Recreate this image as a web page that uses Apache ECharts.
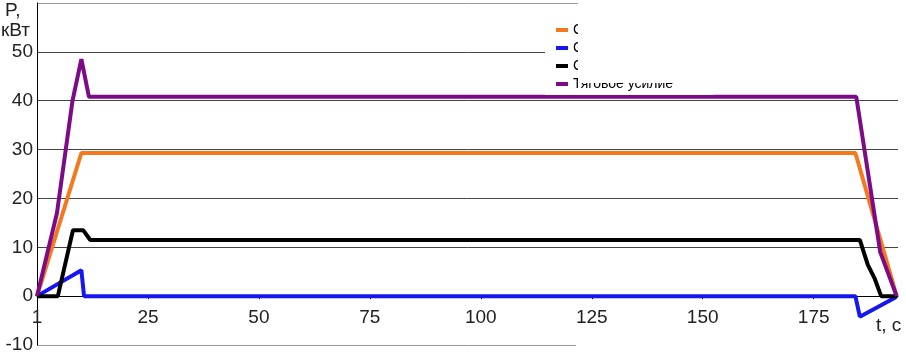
<!DOCTYPE html>
<html>
<head>
<meta charset="utf-8">
<script src="https://cdn.jsdelivr.net/npm/echarts@6/dist/echarts.min.js"></script>
<style>html,body{margin:0;padding:0;background:#fff}#c{width:906px;height:354px}</style>
</head>
<body>
<div id="c"></div>
<script>
// Series names (legend)
var seriesNames = ['Сила сопротивления', 'Сила инерции', 'Сила торможения', 'Тяговое усилие'];
// Time points (s) and values (kW) per series
var orangeT = [0, 10, 184.4, 193.7];
var orangeV = [0, 29.3, 29.3, 0];
var blueT = [0, 10, 10.6, 184.4, 185.4, 193.2, 193.7];
var blueV = [0, 5.3, 0, 0, -4.2, -0.4, 0];
var blackT = [0, 4.7, 8.1, 10.4, 12, 185.4, 187.2, 188.7, 190.2, 193.7];
var blackV = [0, 0, 13.5, 13.5, 11.5, 11.5, 6.4, 3.7, 0, 0];
var purpleT = [0, 4.5, 8, 10, 11.7, 184.6, 190, 193.7];
var purpleV = [0, 17, 40, 48.5, 40.8, 40.8, 9, 0];
// Tick labels
var xTicks = [0, 25, 50, 75, 100, 125, 150, 175];
var xTickText = ['1', '25', '50', '75', '100', '125', '150', '175'];
var yMin = -10, yMax = 60;

function pairs(t, v) { return t.map(function (x, i) { return [x, v[i]]; }); }
var colors = ['#f5781f', '#1616f2', '#000000', '#7d0a87'];
var FONT = 'Liberation Sans, Arial, sans-serif';
var gridTop = 3, gridBottom = 9, H = 354;
var gridH = H - gridTop - gridBottom;
// move the x axis up to the zero line
var zeroOffset = -gridH * (0 - yMin) / (yMax - yMin);

var chart = echarts.init(document.getElementById('c'));
chart.setOption({
  animation: false,
  color: colors,
  grid: { left: 37, right: 8, top: gridTop, bottom: gridBottom, containLabel: false, outerBoundsMode: 'none' },
  legend: {
    orient: 'vertical', left: 545, top: 19,
    padding: [4, 4, 4, 11], backgroundColor: '#fff',
    icon: 'rect', itemWidth: 12, itemHeight: 4, itemGap: 4,
    textStyle: { fontSize: 14, fontFamily: FONT, color: '#000' },
    data: seriesNames, z: 5
  },
  xAxis: {
    type: 'value', min: 0, max: 194, position: 'bottom', offset: zeroOffset,
    axisLine: { onZero: false, lineStyle: { color: '#000', width: 1 } },
    axisTick: { show: true, customValues: xTicks.slice(1), length: 3, lineStyle: { color: '#000' } },
    axisLabel: {
      customValues: xTicks, margin: 12, fontSize: 19, fontFamily: FONT, color: '#222',
      formatter: function (v) { var i = xTicks.indexOf(v); return i >= 0 ? xTickText[i] : ''; }
    },
    splitLine: { show: false }
  },
  yAxis: {
    type: 'value', min: yMin, max: yMax, interval: 10,
    axisLine: { show: true, onZero: false, lineStyle: { color: '#000', width: 1 } },
    axisTick: { show: false },
    axisLabel: {
      margin: 4, fontSize: 19, fontFamily: FONT, color: '#222',
      formatter: function (v) { return v === 60 ? '' : String(v); }
    },
    splitLine: { show: true, lineStyle: { color: ['#999', '#000', '#444', '#444', '#444', '#444', '#444', '#999'], width: 1 } }
  },
  graphic: [
    { type: 'rect', left: 578, top: 0, shape: { width: 328, height: 83 }, style: { fill: '#fff' }, z: 100 },
    { type: 'rect', left: 576, top: 338, shape: { width: 330, height: 16 }, style: { fill: '#fff' }, z: 100 },
    { type: 'text', left: 5, top: 1, style: { text: 'P,', fontSize: 19, fontFamily: FONT, fill: '#222' }, z: 101 },
    { type: 'text', left: 1, top: 21, style: { text: 'кВт', fontSize: 19, fontFamily: FONT, fill: '#222' }, z: 101 },
    { type: 'text', left: 876, top: 316, style: { text: 't, c', fontSize: 19, fontFamily: FONT, fill: '#222' }, z: 101 }
  ],
  series: [
    { name: seriesNames[0], type: 'line', data: pairs(orangeT, orangeV), showSymbol: false, lineStyle: { width: 4 } },
    { name: seriesNames[1], type: 'line', data: pairs(blueT, blueV), showSymbol: false, lineStyle: { width: 4 } },
    { name: seriesNames[2], type: 'line', data: pairs(blackT, blackV), showSymbol: false, lineStyle: { width: 4 } },
    { name: seriesNames[3], type: 'line', data: pairs(purpleT, purpleV), showSymbol: false, lineStyle: { width: 4 } }
  ]
});
</script>
</body>
</html>
